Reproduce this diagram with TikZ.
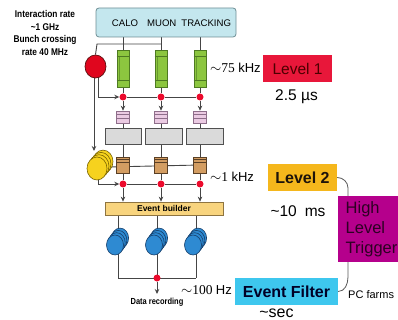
\documentclass[tikz,border=0pt]{standalone}
\usepackage{fontspec}
\setmainfont{Liberation Sans}
\newfontfamily\tnr{Liberation Serif}
\newfontfamily\narrow[FakeStretch=0.85]{Liberation Sans}
\usetikzlibrary{arrows.meta,shapes.geometric,calc,backgrounds}
\definecolor{lc}{HTML}{454545}
\definecolor{det}{HTML}{C4E7EE}
\definecolor{detB}{HTML}{6E8E94}
\definecolor{grn}{HTML}{8CC63F}
\definecolor{grnB}{HTML}{4E7A22}
\definecolor{red1}{HTML}{E0061E}
\definecolor{redB}{HTML}{5A1010}
\definecolor{dotred}{HTML}{EC0A2C}
\definecolor{pink1}{HTML}{EBCBE3}
\definecolor{pinkB}{HTML}{8E6E8A}
\definecolor{gray1}{HTML}{DADADA}
\definecolor{gray3}{HTML}{505050}
\definecolor{br}{HTML}{D39D62}
\definecolor{brB}{HTML}{5A4026}
\definecolor{yel}{HTML}{F6D21E}
\definecolor{yB}{HTML}{7A6400}
\definecolor{blu}{HTML}{2E8AD2}
\definecolor{bB}{HTML}{163E6A}
\definecolor{eb}{HTML}{F8D47E}
\definecolor{ebB}{HTML}{8E7440}
\definecolor{lvA}{HTML}{E8173A}
\definecolor{lvB}{HTML}{F5B71C}
\definecolor{lvC}{HTML}{3EC7EE}
\definecolor{mag}{HTML}{B5008C}
\newcommand\fsz[2]{\fontsize{#1}{#2}\selectfont}
\begin{document}
\begin{tikzpicture}[x=1pt,y=-1pt,
 ln/.style={draw=lc,line width=0.9pt},
 arr/.style={ln,-{Stealth[length=5pt,width=4.5pt]}},
 brace/.style={draw=gray!70!black,line width=0.8pt},
 rdot/.style={circle,fill=dotred,inner sep=0pt,minimum size=7pt},
 greenbar/.style={draw=grnB,fill=grn,line width=0.6pt,minimum width=12pt,minimum height=37pt,inner sep=0pt},
 pinkbox/.style={draw=pinkB,fill=pink1,line width=0.6pt,minimum width=13pt,minimum height=12pt,inner sep=0pt},
 graybox/.style={draw=gray3,fill=gray1,line width=0.8pt,minimum height=16pt,inner sep=0pt},
 brownbox/.style={draw=brB,fill=br,line width=0.6pt,minimum width=13pt,minimum height=16pt,inner sep=0pt},
 ydisk/.style={ellipse,draw=yB,fill=yel,line width=0.6pt,minimum width=20pt,minimum height=23pt,inner sep=0pt},
 bdisk/.style={ellipse,draw=bB,fill=blu,line width=0.6pt,minimum width=17pt,minimum height=20pt,inner sep=0pt},
 stripe/.style={line width=0.5pt},
 lvbox/.style={inner sep=0pt,minimum height=27pt},
 txt/.style={inner sep=0pt},
]
\useasboundingbox (0,0) rectangle (398,320);
\clip (0,0) rectangle (398,320);

% left text
\node[txt,align=center,font=\narrow\bfseries\fsz{9.8}{12.6}] (rate) at (45,33)
  {Interaction rate\\\textasciitilde1 GHz\\Bunch crossing\\rate 40 MHz};

% detector box
\node[draw=detB,fill=det,rounded corners=3pt,line width=0.8pt,minimum width=140pt,minimum height=29pt,inner sep=0pt] (det) at (166,22.5) {};
\node[txt,font=\fsz{9.6}{12}] (detl) at (171.5,23) {CALO\hspace{9pt}MUON\hspace{5pt}TRACKING};

% red ellipse
\node[ellipse,draw=redB,fill=red1,line width=0.7pt,minimum width=21pt,minimum height=23pt,inner sep=0pt] (red) at (95.5,66.5) {};
\coordinate (j0) at (97,44);

% green bars and column parts
\foreach \i/\x in {1/123,2/161,3/200}{
  \node[greenbar] (g\i) at (\x,68.5) {};
  \draw[stripe,draw=grnB] ($(g\i.north west)+(0,7)$) -- ($(g\i.north east)+(0,7)$);
  \draw[stripe,draw=grnB] ($(g\i.south west)+(0,-7)$) -- ($(g\i.south east)+(0,-7)$);
  \draw[stripe,draw=grnB!60!grn] ($(g\i.north west)+(3,7)$) -- ($(g\i.south west)+(3,-7)$);
  \node[rdot] (d1\i) at (\x,97) {};
  \node[pinkbox] (p\i) at (\x,117) {};
  \draw[stripe,draw=pinkB] ($(p\i.north west)+(0,4)$) -- ($(p\i.north east)+(0,4)$);
  \draw[stripe,draw=pinkB] ($(p\i.north west)+(0,8)$) -- ($(p\i.north east)+(0,8)$);
  \node[brownbox] (b\i) at (\x,165) {};
  \draw[stripe,draw=brB] ($(b\i.north west)+(0,3)$) -- ($(b\i.north east)+(0,3)$);
  \draw[stripe,draw=brB] ($(b\i.north west)+(0,5.5)$) -- ($(b\i.north east)+(0,5.5)$);
  \node[rdot] (d2\i) at (\x,184) {};
}
\node[graybox,minimum width=36pt] (q1) at (123,136) {};
\node[graybox,minimum width=37pt] (q2) at (163.5,136) {};
\node[graybox,minimum width=37pt] (q3) at (204.5,136) {};

% yellow stack
\foreach \k in {3,2,1}{
  \node[ydisk] (yl\k) at ({97+2*\k},{168.5-2.3*\k}) {};
}
\node[ydisk] (yel) at (97,168.5) {};
\coordinate (ya) at (94,151);
\coordinate (yb) at (98,178);
\coordinate (yh) at (108,167);

% event builder
\node[draw=ebB,fill=eb,line width=0.7pt,minimum width=118pt,minimum height=13pt,inner sep=0pt] (eb) at (164,208.5) {};
\node[txt,font=\bfseries\fsz{8.5}{10}] (ebl) at (164,208.5) {Event builder};

% blue stacks
\foreach \i/\lx in {1/118,2/157,3/196}{
  \foreach \k in {3,2,1}{
    \node[bdisk] (bl\i\k) at ({\lx-3+1.7*\k},{245-2.3*\k}) {};
  }
  \node[bdisk] (bl\i) at ({\lx-3},245) {};
  \coordinate (k\i) at (\lx,278);
}
\node[rdot] (d3) at (157,278) {};
\node[txt,anchor=north,font=\narrow\bfseries\fsz{8.8}{10}] (drec) at (157,298) {Data recording};

% connectors (under the shapes)
\begin{scope}[on background layer]
  \foreach \i in {1,2,3}{
    \draw[ln] (det.south -| g\i) -- (g\i.north);
    \draw[ln] (g\i.south) -- (d1\i);
    \draw[arr] (d1\i) -- (p\i.north);
    \draw[ln] (p\i.south) -- (p\i.south |- q\i.north);
    \draw[ln] (p\i.south |- q\i.south) -- (b\i.north);
    \draw[ln] (b\i.south) -- (d2\i);
    \draw[arr] (d2\i) -- (d2\i |- eb.north);
    \draw[ln] (k\i |- eb.south) -- (k\i);
  }
  \draw[ln] (g2 |- j0) -- (j0) -- (red.north);
  \draw[arr] ([xshift=2.5pt]red.center) |- (d11);
  \draw[ln] (d11) -- (d12) -- (d13);
  \draw[arr] ([xshift=-1.5pt]red.center) -- (ya);
  \draw[ln] (yh) -- (b3.center);
  \draw[arr] (yb) |- (d21);
  \draw[ln] (d21) -- (d22) -- (d23);
  \draw[ln] (k1) -- (k3);
\end{scope}
\draw[arr] (d3) -- ([yshift=4pt]drec.north);

% rate labels
\node[txt,anchor=west] (r75) at (210,68) {\fsz{13.5}{15}$\sim$\tnr 75 \rmfamily\fsz{13}{15}kHz};
\node[txt,anchor=west] (r1) at (210,177) {\fsz{13.5}{15}$\sim$\tnr 1 \rmfamily\fsz{13}{15}kHz};
\node[txt,anchor=east] (r100) at (232,290) {\fsz{13.5}{15}$\sim$\tnr 100 \rmfamily\fsz{13}{15}Hz};

% level boxes
\node[lvbox,fill=lvA,minimum width=69pt,text=red!30!black,font=\fsz{15.5}{18}] (L1) at (297.5,68.5) {Level 1};
\node[txt,font=\fsz{15.5}{18}] (t1) at (296.5,97) {2.5 µs};
\node[lvbox,fill=lvB,minimum width=69pt,text=black!85!brown,font=\bfseries\fsz{16}{18}] (L2) at (302.5,177.5) {Level 2};
\node[txt,font=\fsz{15.5}{18}] (t2) at (298,211) {\textasciitilde10\hspace{8pt}ms};
\node[lvbox,fill=lvC,minimum width=103pt,text=black!85!blue,font=\bfseries\fsz{16}{18}] (EF) at (286.5,291.5) {Event Filter};
\node[txt,font=\fsz{16}{18}] (t3) at (276.5,313) {\textasciitilde sec};
\coordinate (bt) at (348,188);
\coordinate (bb) at (348,277);
\draw[brace] (L2.east) to[out=0,in=90] (bt) -- (bb) to[out=-90,in=0] (EF.east);
\node[fill=mag,minimum width=70pt,minimum height=66pt,inner sep=0pt] (HLT) at (373,229) {};
\node[txt,anchor=north west,align=left,text=black!75!mag,font=\fsz{16.5}{20}] (hltl) at (345.5,201) {High\\Level\\Trigger};
\node[txt,anchor=west,font=\fsz{11}{13}] (pc) at (348,295) {PC farms};
\end{tikzpicture}
\end{document}
